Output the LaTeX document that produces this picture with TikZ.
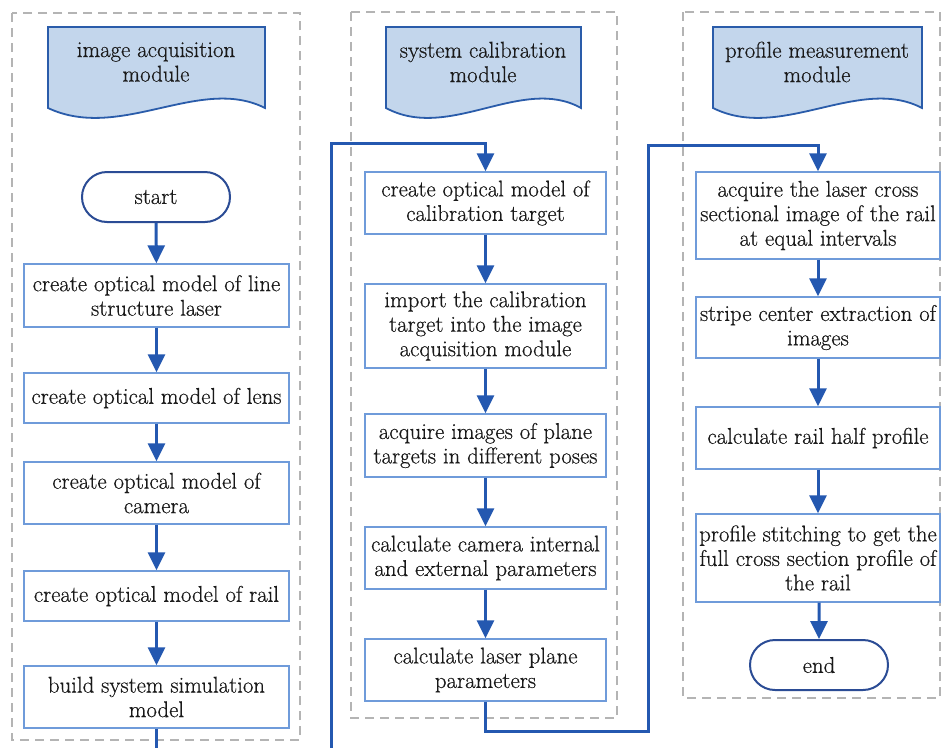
\documentclass[tikz,border=0pt]{standalone}
\usepackage{fontspec}
\setmainfont{Latin Modern Roman}[FakeBold=0.5]
\usetikzlibrary{arrows.meta,shapes.misc}
\definecolor{boxline}{HTML}{6F9BDA}
\definecolor{arrblue}{HTML}{2458B0}
\definecolor{hdrfill}{HTML}{C3D6EC}
\definecolor{hdrline}{HTML}{2A5CAA}
\definecolor{navy}{HTML}{2B4C95}
\definecolor{dashgray}{HTML}{B4B4B4}
\begin{document}
\begin{tikzpicture}[x=1pt,y=-1pt,
  txt/.style={font=\fontsize{22.8}{24.5}\selectfont, text=black!90, align=center, inner sep=0pt},
  procbox/.style={txt, draw=boxline, line width=1.4pt, fill=white},
  termbox/.style={txt, draw=navy, line width=2pt, rounded rectangle, fill=white},
  arr/.style={draw=arrblue, line width=3pt, -{Triangle[length=18pt,width=17pt]}},
  lane/.style={draw=dashgray, line width=1.2pt, dash pattern=on 9pt off 6pt},
  hdr/.style={draw=hdrline, fill=hdrfill, line width=1.8pt}]
\path[use as bounding box] (0,0) rectangle (941,747);
\fill[white] (0,0) rectangle (941,747);
\clip (0,0) rectangle (941,747);

% lanes
\draw[lane] (12,13) rectangle (300,740);
\draw[lane] (351,12) rectangle (617,718);
\draw[lane] (683,12) rectangle (940,698);

% headers
\draw[hdr] (48,27) -- (265,27) -- (265,108) .. controls (200,75) and (120,142) .. (48,108) -- cycle;
\draw[hdr] (386,27) -- (581,27) -- (581,108) .. controls (522,75) and (449,142) .. (386,108) -- cycle;
\draw[hdr] (713,27) -- (922,27) -- (922,108) .. controls (859,75) and (781,142) .. (713,108) -- cycle;
\node[txt] (h1) at (156,62) {image acquisition\\module};
\node[txt] (h2) at (483,62) {system calibration\\module};
\node[txt] (h3) at (817,62) {profile measurement\\module};

% left column
\node[termbox, minimum width=148pt, minimum height=50pt] (start) at (156,197) {start};
\node[procbox, minimum width=265pt, minimum height=63pt] (b1) at (156.5,295.5) {create optical model of line\\structure laser};
\node[procbox, minimum width=265pt, minimum height=50pt] (b2) at (156.5,398) {create optical model of lens};
\node[procbox, minimum width=265pt, minimum height=62pt] (b3) at (156.5,493) {create optical model of\\camera};
\node[procbox, minimum width=265pt, minimum height=50pt] (b4) at (156.5,596) {create optical model of rail};
\node[procbox, minimum width=265pt, minimum height=62pt] (b5) at (156.5,697) {build system simulation\\model};

% middle column
\node[procbox, minimum width=241pt, minimum height=62pt] (m1) at (485.5,203) {create optical model of\\calibration target};
\node[procbox, minimum width=241pt, minimum height=84pt] (m2) at (485.5,326) {import the calibration\\target into the image\\acquisition module};
\node[procbox, minimum width=241pt, minimum height=63pt] (m3) at (485.5,445.5) {acquire images of plane\\targets in different poses};
\node[procbox, minimum width=241pt, minimum height=62pt] (m4) at (485.5,558) {calculate camera internal\\and external parameters};
\node[procbox, minimum width=241pt, minimum height=62pt] (m5) at (485.5,670) {calculate laser plane\\parameters};

% right column
\node[procbox, minimum width=244pt, minimum height=87pt] (r1) at (818,215.5) {acquire the laser cross\\sectional image of the rail\\at equal intervals};
\node[procbox, minimum width=244pt, minimum height=61pt] (r2) at (818,327.5) {stripe center extraction of\\images};
\node[procbox, minimum width=244pt, minimum height=62pt] (r3) at (818,438) {calculate rail half profile};
\node[procbox, minimum width=244pt, minimum height=88pt] (r4) at (818,558) {profile stitching to get the\\full cross section profile of\\the rail};
\node[termbox, minimum width=138pt, minimum height=50pt] (end) at (819,665) {end};

% connectors
\draw[arr] (start) -- (b1);
\draw[arr] (b1) -- (b2);
\draw[arr] (b2) -- (b3);
\draw[arr] (b3) -- (b4);
\draw[arr] (b4) -- (b5);
\draw[arr] (m1) -- (m2);
\draw[arr] (m2) -- (m3);
\draw[arr] (m3) -- (m4);
\draw[arr] (m4) -- (m5);
\draw[arr] (r1) -- (r2);
\draw[arr] (r2) -- (r3);
\draw[arr] (r3) -- (r4);
\draw[arr] (r4.south -| end.north) -- (end);

\coordinate (lowL) at (331,770);
\coordinate (topL) at (331,143);
\draw[arr] (b5.south) |- (lowL) -- (topL) -| (m1.north);
\coordinate (lowM) at (648,731);
\coordinate (topM) at (648,145);
\draw[arr] (m5.south) |- (lowM) -- (topM) -| (r1.north);
\end{tikzpicture}
\end{document}
